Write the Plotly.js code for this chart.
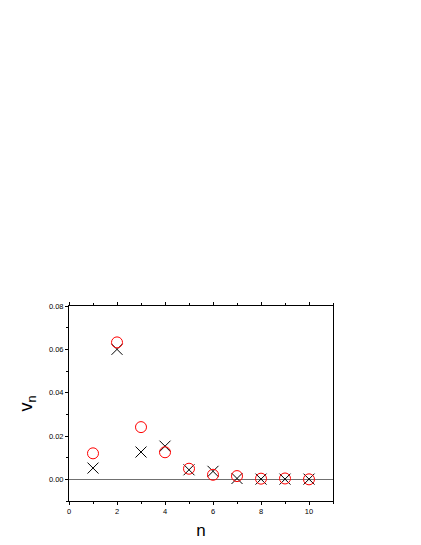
<!DOCTYPE html>
<html>
<head>
<meta charset="utf-8">
<script src="https://cdn.plot.ly/plotly-3.0.1.min.js"></script>
<style>html,body{margin:0;padding:0;background:#fff;}#chart{width:421px;height:545px;}</style>
</head>
<body>
<div id="chart"></div>
<script>
const nValues = [1, 2, 3, 4, 5, 6, 7, 8, 9, 10];
const circleValues = [0.0120, 0.0632, 0.0241, 0.0125, 0.0049, 0.0021, 0.0015, 0.0003, 0.0004, 0.0000];
const crossValues = [0.0052, 0.0600, 0.0126, 0.0153, 0.0044, 0.0037, 0.0004, 0.0001, 0.0001, 0.0001];
const xTicks = [0, 2, 4, 6, 8, 10];
const yTicks = [0.00, 0.02, 0.04, 0.06, 0.08];
const yTickLabels = ['0.00', '0.02', '0.04', '0.06', '0.08'];

const traces = [
  {
    x: nValues, y: crossValues, type: 'scatter', mode: 'markers',
    marker: {symbol: 'x-thin-open', size: 11, color: '#000', line: {color: '#000', width: 1}},
    cliponaxis: false, showlegend: false
  },
  {
    x: nValues, y: circleValues, type: 'scatter', mode: 'markers',
    marker: {symbol: 'circle-open', size: 11, color: '#ff0000', line: {color: '#ff0000', width: 1}},
    cliponaxis: false, showlegend: false
  }
];

const tickFont = {family: 'Liberation Sans, Arial, sans-serif', size: 7.5, color: '#000'};
const layout = {
  width: 421, height: 545,
  margin: {l: 69, r: 88, t: 306, b: 44, pad: 0},
  paper_bgcolor: '#fff', plot_bgcolor: '#fff',
  xaxis: {
    range: [0, 11], tickvals: xTicks, ticktext: xTicks.map(String),
    ticks: 'outside', ticklen: 3, tickwidth: 1, tickcolor: '#000',
    minor: {dtick: 1, ticks: 'outside', ticklen: 2, tickcolor: '#000', tickwidth: 1, showgrid: false},
    showline: true, linecolor: '#000', linewidth: 1, mirror: 'allticks',
    showgrid: false, zeroline: false, tickfont: tickFont,
    title: {text: 'n', font: {family: 'Liberation Sans, Arial, sans-serif', size: 17, color: '#000'}, standoff: 9}
  },
  yaxis: {
    range: [-0.01, 0.08], tickvals: yTicks, ticktext: yTickLabels,
    ticks: 'outside', ticklen: 3, tickwidth: 1, tickcolor: '#000',
    minor: {dtick: 0.01, tick0: 0, ticks: 'outside', ticklen: 2, tickcolor: '#000', tickwidth: 1, showgrid: false},
    showline: true, linecolor: '#000', linewidth: 1, mirror: true,
    showgrid: false, zeroline: true, zerolinecolor: '#333', zerolinewidth: 0.7,
    tickfont: tickFont,
    title: {text: 'v<sub>n</sub>', font: {family: 'Liberation Sans, Arial, sans-serif', size: 18, color: '#000'}, standoff: 11}
  }
};

Plotly.newPlot('chart', traces, layout, {displayModeBar: false, staticPlot: true});
</script>
</body>
</html>
